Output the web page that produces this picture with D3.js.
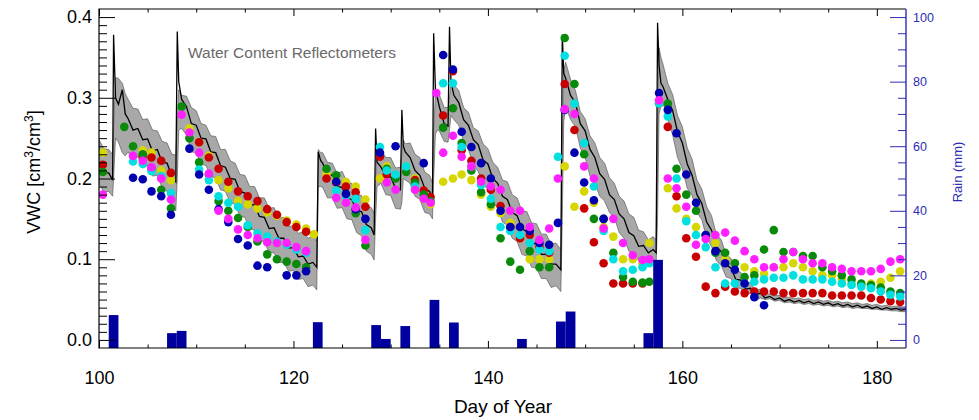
<!DOCTYPE html>
<html><head><meta charset="utf-8">
<script src="https://cdn.jsdelivr.net/npm/d3@7"></script>
<style>
body{margin:0;background:#fff}
svg{display:block}
text{font-family:"Liberation Sans",Arial,Helvetica,sans-serif}
</style>
</head><body>
<svg id="chart" width="979" height="420"></svg>
<script>
// ---------- data ----------
const tDays = [100,100.5,101,101.4,101.5,101.7,102,102.4,102.7,103,103.5,104,104.5,105,105.5,106,106.5,107,107.5,107.9,108.05,108.2,108.5,109,109.5,110,110.5,111,111.5,112,112.5,113,113.5,114,114.5,115,115.5,116,116.5,117,117.5,118,118.5,119,119.5,120,120.5,121,121.5,122,122.4,122.55,122.8,123,123.5,124,124.5,125,125.5,126,126.5,127,127.5,128,128.3,128.45,128.6,129,129.5,130,130.5,131,131.15,131.3,131.5,132,132.5,133,133.5,134,134.3,134.42,134.6,134.8,135,135.5,135.9,136.05,136.2,136.5,137,137.5,138,138.5,139,139.5,140,140.5,141,141.5,142,142.5,143,143.5,144,144.5,145,145.5,146,146.5,147,147.5,147.65,147.8,148,148.5,149,149.5,150,150.5,151,151.5,152,152.5,153,153.5,154,154.5,155,155.5,156,156.5,157,157.3,157.45,157.6,157.8,158,158.5,159,159.5,160,160.5,161,161.5,162,162.5,163,163.5,164,164.5,165,165.5,166,166.5,167,167.5,168,168.5,169,169.5,170,170.5,171,171.5,172,172.5,173,173.5,174,174.5,175,175.5,176,176.5,177,177.5,178,178.5,179,179.5,180,180.5,181,181.5,182,182.5,183];
const vwcLow = [.194,.183,.184,.178,.2,.25,.245,.232,.228,.233,.222,.227,.213,.216,.203,.204,.188,.184,.163,.16,.2,.26,.262,.254,.233,.232,.218,.216,.203,.2,.186,.184,.17,.168,.153,.152,.138,.136,.123,.122,.108,.108,.096,.096,.085,.086,.075,.076,.066,.068,.062,.19,.19,.189,.176,.176,.163,.164,.15,.149,.133,.129,.11,.106,.099,.15,.19,.194,.18,.179,.163,.162,.17,.2,.198,.194,.178,.174,.158,.156,.15,.2,.255,.26,.259,.246,.245,.26,.278,.273,.266,.246,.236,.216,.209,.192,.187,.17,.164,.146,.142,.126,.122,.106,.104,.09,.089,.076,.076,.065,.067,.06,.15,.27,.289,.273,.264,.238,.226,.203,.194,.178,.172,.158,.152,.133,.126,.11,.108,.098,.101,.093,.098,.094,.15,.28,.29,.294,.273,.254,.226,.212,.188,.179,.158,.149,.126,.116,.098,.092,.078,.076,.064,.064,.055,.058,.049,.052,.05,.051,.048,.049,.046,.047,.045,.046,.044,.045,.043,.044,.042,.043,.041,.042,.04,.041,.039,.04,.039,.039,.038,.038,.037,.037,.036,.036,.035,.035];
const vwcMean = [.218,.207,.207,.198,.378,.30,.292,.31,.28,.274,.26,.262,.248,.249,.234,.236,.22,.219,.203,.196,.382,.32,.298,.289,.268,.266,.25,.249,.233,.232,.216,.214,.2,.199,.184,.182,.168,.167,.153,.152,.138,.139,.126,.126,.114,.114,.103,.104,.094,.096,.09,.233,.222,.219,.206,.204,.19,.189,.176,.174,.16,.159,.143,.139,.13,.262,.22,.214,.203,.202,.188,.186,.285,.24,.233,.226,.21,.204,.188,.184,.175,.38,.31,.30,.289,.268,.265,.388,.32,.303,.294,.273,.266,.248,.242,.223,.218,.2,.194,.178,.174,.158,.154,.138,.134,.12,.119,.106,.106,.094,.094,.087,.378,.33,.324,.303,.294,.268,.259,.236,.226,.206,.199,.18,.174,.156,.15,.133,.129,.116,.117,.108,.112,.108,.393,.34,.318,.314,.298,.284,.258,.244,.218,.204,.18,.169,.146,.136,.116,.109,.093,.089,.075,.074,.063,.064,.055,.058,.052,.054,.05,.052,.048,.05,.047,.049,.046,.048,.045,.047,.044,.046,.043,.045,.042,.044,.041,.043,.04,.042,.039,.041,.038,.04,.038,.039,.037,.038];
const vwcHigh = [.248,.237,.236,.23,.26,.325,.324,.318,.305,.298,.287,.286,.273,.274,.26,.259,.246,.244,.23,.229,.27,.31,.303,.302,.288,.284,.268,.266,.253,.252,.236,.236,.222,.219,.205,.204,.19,.19,.176,.176,.163,.164,.151,.152,.14,.142,.132,.134,.126,.129,.122,.236,.232,.232,.22,.219,.206,.209,.196,.194,.18,.179,.166,.164,.157,.2,.235,.236,.226,.226,.213,.214,.23,.248,.243,.244,.23,.226,.208,.204,.195,.26,.305,.308,.304,.288,.288,.3,.322,.316,.309,.288,.282,.263,.259,.243,.237,.22,.214,.198,.196,.18,.176,.16,.159,.145,.144,.131,.131,.119,.12,.112,.25,.335,.344,.323,.309,.283,.274,.253,.244,.226,.219,.201,.194,.178,.172,.156,.152,.136,.134,.124,.128,.124,.26,.362,.35,.342,.318,.304,.278,.264,.238,.224,.198,.187,.165,.154,.131,.124,.106,.101,.086,.084,.071,.071,.061,.063,.058,.057,.055,.055,.053,.053,.051,.052,.05,.051,.049,.05,.048,.049,.047,.048,.046,.047,.045,.046,.044,.045,.043,.044,.042,.043,.041,.042,.041,.041,.04,.04];

const obsDays = [100.4,102.6,103.5,104.5,105.4,106.4,107.4,108.5,109.3,110.3,111.3,112.3,113.3,114.3,115.3,116.3,117.3,118.3,119.3,120.3,121.3,122.1,123.4,124.4,125.4,126.4,127.4,128.9,129.6,130.5,131.6,132.5,133.4,134.1,134.7,135.4,136.4,137.3,138.3,139.3,140.3,141.3,142.3,143.3,144.3,145.3,146.3,147.2,147.9,148.9,149.9,150.9,151.9,152.9,153.9,154.9,155.9,156.6,157.6,158.5,159.4,160.4,161.4,162.4,163.4,164.4,165.4,166.4,167.4,168.4,169.4,170.4,171.4,172.4,173.4,174.4,175.4,176.4,177.4,178.4,179.4,180.4,181.4,182.4];
const sensorYellow  = [.232,null,null,.235,.232,.210,.198,null,.262,.245,.228,.198,.188,.172,.168,.163,.158,.154,.148,.143,.138,.131,.205,.200,.196,.190,.174,.200,.215,null,.215,.200,.175,.168,null,.196,.200,.205,.198,.180,.165,.157,.145,.126,.100,.100,.100,null,.215,.165,.184,.170,.140,.128,.100,.100,.095,.120,null,.188,.163,.150,.140,.130,.120,.100,.095,.090,.085,.082,.090,.090,.095,.090,.085,.080,.080,.075,.070,.068,.070,.072,.077,.085];
const sensorRed     = [.217,null,null,.228,.226,.222,.207,null,null,.245,.226,.212,.196,.184,.178,.172,.162,.155,.146,.140,.134,null,.200,.195,.190,.183,.165,.227,.205,null,null,.198,.185,.177,null,.278,.333,.235,.222,.200,.186,.166,.140,.126,.130,.115,.108,null,.317,.260,.163,.121,.095,.070,.070,.070,.070,null,.293,.264,.178,.126,.103,.066,.058,.066,.060,.058,.060,.060,.060,.058,.058,.058,.058,.058,.055,.055,.055,.055,.052,.050,.048,.047];
const sensorGreen   = [.208,.264,.240,.230,.212,.186,.163,.289,.250,.220,.205,.172,.160,.151,.140,.122,.106,.100,.097,.094,.090,null,.212,.204,.180,.157,.117,null,.212,.200,.208,.195,.180,.172,null,.263,.287,.244,.210,.183,.168,.126,.097,.087,.110,.090,.090,null,.374,.317,.230,.150,.150,.108,.078,.072,.071,.072,null,.293,.212,.180,.160,.130,.108,.108,.095,.078,.080,.112,.136,.109,.109,.104,.104,.090,.085,.080,.075,.070,.068,.065,.060,.058];
const sensorCyan    = [null,null,.221,.218,.209,.203,.182,null,null,.211,.198,.178,.170,.165,.142,.132,.128,.122,.118,.112,.108,null,null,.185,.178,.175,.136,.239,.210,.205,.215,.190,null,null,null,.318,.318,.239,.215,.192,.175,.140,.135,.130,.120,.112,.110,.227,.352,.293,.244,.190,.135,.100,.085,.087,.090,.095,.293,.277,.200,.147,.130,.115,.090,.070,.070,.070,.072,.075,.077,.077,.080,.075,.075,.075,.072,.070,.068,.066,.064,.060,.056,.054];
const sensorBlue    = [null,null,.201,.199,.184,.178,.155,null,.237,.205,.186,.162,.146,.125,.117,.092,.090,null,.080,.080,.085,null,null,.196,.181,.162,.150,.232,null,.240,null,null,.219,null,null,.353,.335,.258,.239,.219,.200,.160,.140,.140,.135,.120,.118,.145,.285,.232,.195,.173,.150,null,null,null,null,null,.306,.285,.256,.205,.170,.130,.110,.095,.087,.070,.053,.043,null,null,null,null,null,null,null,null,null,null,null,null,null,null];
const sensorMagenta = [.180,null,.228,.222,.214,.200,.174,.279,.257,.232,.206,.160,.150,.137,.130,.126,.121,.120,.120,.115,.110,null,null,.176,.170,.164,.124,null,.195,.186,null,.186,.175,.170,.306,.232,.253,.227,.215,.196,.190,.186,.160,.160,.140,.124,.138,.200,.286,.280,.215,.200,.138,.150,.120,.105,.099,.100,.297,.200,.188,.165,.118,.125,.130,.133,.123,.110,.100,.090,.090,.100,.109,.100,.095,.095,.090,.088,.085,.085,.085,.088,.097,.100];

const rainDays = [101,107,108,122,128,129,131,134,136,143,147,148,156,157];
const rainMM   = [7.7,2.1,2.8,5.5,4.6,0.3,4.3,12.4,5.4,0.3,5.7,8.8,2.1,24.8];

const xMajorTicks = [100,120,140,160,180];
const yMajorTicks = [0,0.1,0.2,0.3,0.4];
const rainMajorTicks = [0,20,40,60,80,100];

// ---------- drawing ----------
const svg = d3.select("#chart");
const L = 99, R = 906, T = 9, B = 348;
const x = d3.scaleLinear().domain([100,183]).range([L,R]);
const y = d3.scaleLinear().domain([-0.01,0.41]).range([B,T]);
const yR = d3.scaleLinear().domain([-2.5,102.5]).range([B,T]);
const blueAxis = "#2d2db4";

svg.append("defs").append("clipPath").attr("id","plotclip")
  .append("rect").attr("x",L).attr("y",T).attr("width",R-L).attr("height",B-T);
const g = svg.append("g").attr("clip-path","url(#plotclip)");

// envelope band
const band = tDays.map((d,i)=>({d, lo:vwcLow[i], hi:vwcHigh[i], m:vwcMean[i]}));
g.append("path").datum(band)
  .attr("d", d3.area().x(p=>x(p.d)).y0(p=>y(p.lo)).y1(p=>y(p.hi)))
  .attr("fill","#a8a8a8").attr("stroke","#4a4a4a").attr("stroke-width",0.6);
g.append("path").datum(band)
  .attr("d", d3.line().x(p=>x(p.d)).y(p=>y(p.m)))
  .attr("fill","none").attr("stroke","#000").attr("stroke-width",1.3);

// sensor dots
const sensors = [
  {vals:sensorYellow,  color:"#d6d600"},
  {vals:sensorRed,     color:"#c80000"},
  {vals:sensorGreen,   color:"#0a8a0a"},
  {vals:sensorCyan,    color:"#00e0e0"},
  {vals:sensorBlue,    color:"#0000b0"},
  {vals:sensorMagenta, color:"#ff20ff"}
];
sensors.forEach(s=>{
  const pts = obsDays.map((d,i)=>({d, v:s.vals[i]})).filter(p=>p.v!==null);
  g.append("g").selectAll("circle").data(pts).join("circle")
    .attr("cx",p=>x(p.d)).attr("cy",p=>y(p.v)).attr("r",4.3)
    .attr("fill",s.color);
});

// rain bars
g.append("g").selectAll("rect").data(rainDays.map((d,i)=>({d, v:rainMM[i]}))).join("rect")
  .attr("x",p=>x(p.d)).attr("width",p=>x(p.d+1)-x(p.d))
  .attr("y",p=>yR(p.v)).attr("height",p=>B-yR(p.v))
  .attr("fill","#00009e");

// axes
const fs = 18;
function style(sel, color){
  sel.select(".domain").remove();
  sel.selectAll("line").attr("stroke",color).attr("stroke-width",1);
  sel.selectAll("text").attr("fill",color).style("font-family",'"Liberation Sans",Arial,sans-serif');
}
const xMinor = d3.range(100,184,5).filter(v=>!xMajorTicks.includes(v));
// bottom
let a = svg.append("g").attr("transform",`translate(0,${B})`)
  .call(d3.axisBottom(x).tickValues(xMajorTicks).tickSize(-7).tickSizeOuter(0).tickPadding(23).tickFormat(d3.format("d")));
style(a,"#000"); a.selectAll("text").style("font-size",fs+"px");
a = svg.append("g").attr("transform",`translate(0,${B})`)
  .call(d3.axisBottom(x).tickValues(xMinor).tickSize(-3.5).tickSizeOuter(0).tickFormat(""));
style(a,"#000");
// top
a = svg.append("g").attr("transform",`translate(0,${T})`)
  .call(d3.axisTop(x).tickValues(xMajorTicks).tickSize(-7).tickSizeOuter(0).tickFormat(""));
style(a,"#000");
a = svg.append("g").attr("transform",`translate(0,${T})`)
  .call(d3.axisTop(x).tickValues(xMinor).tickSize(-3.5).tickSizeOuter(0).tickFormat(""));
style(a,"#000");
// left
a = svg.append("g").attr("transform",`translate(${L},0)`)
  .call(d3.axisLeft(y).tickValues(yMajorTicks).tickSize(-16).tickSizeOuter(0).tickPadding(7).tickFormat(d3.format(".1f")));
style(a,"#000"); a.selectAll("text").style("font-size",fs+"px");
const yMinor = d3.range(0,41).map(v=>v/100).filter(v=>Math.round(v*100)%10!==0);
a = svg.append("g").attr("transform",`translate(${L},0)`)
  .call(d3.axisLeft(y).tickValues(yMinor).tickSize(-8).tickSizeOuter(0).tickFormat(""));
style(a,"#000");
// right
a = svg.append("g").attr("transform",`translate(${R},0)`)
  .call(d3.axisRight(yR).tickValues(rainMajorTicks).tickSize(-16).tickSizeOuter(0).tickPadding(7).tickFormat(d3.format("d")));
style(a,blueAxis); a.selectAll("text").style("font-size","12.5px");
const rMinor = d3.range(0,101,5).filter(v=>v%20!==0);
a = svg.append("g").attr("transform",`translate(${R},0)`)
  .call(d3.axisRight(yR).tickValues(rMinor).tickSize(-8).tickSizeOuter(0).tickFormat(""));
style(a,blueAxis);

// frame
svg.append("path").attr("d",`M${R},${T}H${L}V${B}H${R}`).attr("fill","none").attr("stroke","#000").attr("stroke-width",1.2);
svg.append("line").attr("x1",R).attr("x2",R).attr("y1",T).attr("y2",B).attr("stroke",blueAxis).attr("stroke-width",1.4);

// titles
svg.append("text").attr("x",503).attr("y",413).attr("text-anchor","middle")
  .style("font-size","19px").attr("fill","#000").text("Day of Year");
const yl = svg.append("text").attr("transform","translate(40,172) rotate(-90)")
  .attr("text-anchor","middle").style("font-size","18px").attr("fill","#000");
yl.append("tspan").text("VWC [cm");
yl.append("tspan").attr("dy",-7).style("font-size","12px").text("3");
yl.append("tspan").attr("dy",7).text("/cm");
yl.append("tspan").attr("dy",-7).style("font-size","12px").text("3");
yl.append("tspan").attr("dy",7).text("]");
svg.append("text").attr("transform","translate(962,172) rotate(-90)")
  .attr("text-anchor","middle").style("font-size","13px").attr("fill",blueAxis).text("Rain (mm)");
svg.append("text").attr("x",188).attr("y",58).style("font-size","15.5px")
  .attr("fill","#6a6a6a").text("Water Content Reflectometers");
</script>
</body></html>
